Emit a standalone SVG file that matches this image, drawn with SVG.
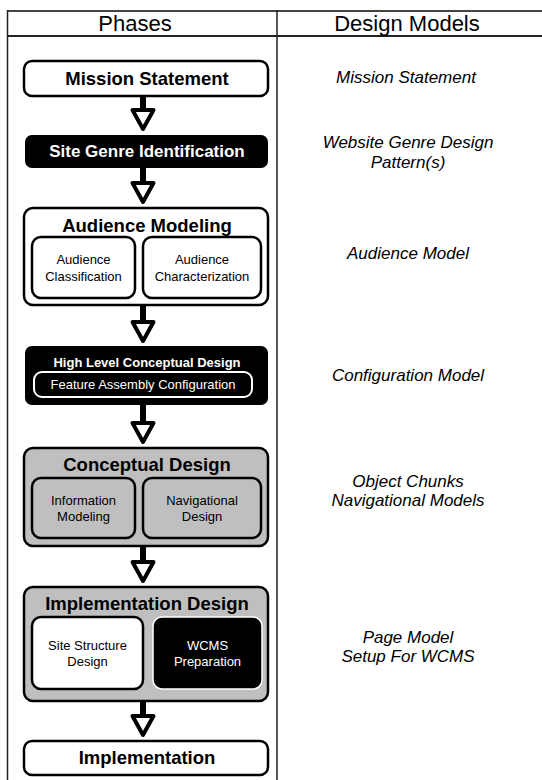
<svg xmlns="http://www.w3.org/2000/svg" width="542" height="780" viewBox="0 0 542 780">
<style>
text{font-family:"Liberation Sans",Arial,sans-serif;text-anchor:middle}
.hdr{font-size:22px;fill:#000}
.title{font-size:18.5px;font-weight:bold;fill:#000}
.sub{font-size:13px;fill:#000}
.model{font-size:17px;font-style:italic;fill:#000}
.box{stroke:#000;stroke-width:2.5}
.arrow-shaft{stroke:#000;stroke-width:6}
.arrow-head{fill:#fff;stroke:#000;stroke-width:4;stroke-linejoin:round}
</style>
<defs>
<g id="ah"><path class="arrow-head" d="M-10.5,2 L10.5,2 L0,21 Z"/></g>
</defs>
<rect width="542" height="780" fill="#fff"/>
<g id="table" fill="none" stroke="#222">
<line x1="7.5" y1="11" x2="542" y2="11" stroke-width="2" stroke="#444"/>
<line x1="7.5" y1="36" x2="542" y2="36" stroke-width="2"/>
<line x1="7.5" y1="10" x2="7.5" y2="780" stroke-width="1.5"/>
<line x1="277" y1="10" x2="277" y2="780" stroke-width="1.5"/>
</g>
<g id="headers">
<text class="hdr" x="135" y="31">Phases</text>
<text class="hdr" x="407" y="31">Design Models</text>
</g>
<g id="mission">
<rect class="box" x="24" y="61" width="244" height="35" rx="8" fill="#fff"/>
<text class="title" x="147" y="85">Mission Statement</text>
</g>
<g id="genre">
<rect x="25" y="135" width="243" height="33" rx="7" fill="#000"/>
<text class="title" x="147" y="157" fill="#fff" style="fill:#fff;font-size:17px">Site Genre Identification</text>
</g>
<g id="audience">
<rect class="box" x="24" y="208" width="244" height="97" rx="9" fill="#fff"/>
<text class="title" x="147" y="232">Audience Modeling</text>
<rect class="box" x="32" y="237" width="103" height="61" rx="9" fill="#fff"/>
<text class="sub" x="83.5" y="264">Audience</text>
<text class="sub" x="83.5" y="281">Classification</text>
<rect class="box" x="143" y="237" width="118" height="61" rx="9" fill="#fff"/>
<text class="sub" x="202" y="264">Audience</text>
<text class="sub" x="202" y="281">Characterization</text>
</g>
<g id="highlevel">
<rect x="25" y="346" width="243" height="59" rx="7" fill="#000"/>
<text x="147" y="367" style="font-size:13px;font-weight:bold;fill:#fff">High Level Conceptual Design</text>
<rect x="34" y="372" width="218" height="25" rx="8" fill="#000" stroke="#fff" stroke-width="2"/>
<text x="143" y="389" style="font-size:13px;fill:#fff">Feature Assembly Configuration</text>
</g>
<g id="conceptual">
<rect class="box" x="24" y="448" width="244" height="98" rx="9" fill="#bfbfbf"/>
<text class="title" x="147" y="471">Conceptual Design</text>
<rect class="box" x="32" y="478" width="103" height="60" rx="9" fill="#bfbfbf"/>
<text class="sub" x="83.5" y="505">Information</text>
<text class="sub" x="83.5" y="521">Modeling</text>
<rect class="box" x="143" y="478" width="118" height="60" rx="9" fill="#bfbfbf"/>
<text class="sub" x="202" y="505">Navigational</text>
<text class="sub" x="202" y="521">Design</text>
</g>
<g id="impldesign">
<rect class="box" x="24" y="587" width="244" height="114" rx="9" fill="#bfbfbf"/>
<text class="title" x="147" y="610">Implementation Design</text>
<rect class="box" x="32" y="617" width="111" height="72" rx="9" fill="#fff"/>
<text class="sub" x="87.5" y="650">Site Structure</text>
<text class="sub" x="87.5" y="666">Design</text>
<rect x="153" y="617" width="109" height="72" rx="9" fill="#000" stroke="#fff" stroke-width="1.5"/>
<text class="sub" x="207.5" y="650" style="fill:#fff">WCMS</text>
<text class="sub" x="207.5" y="666" style="fill:#fff">Preparation</text>
</g>
<g id="implementation">
<rect class="box" x="24" y="741" width="244" height="34" rx="8" fill="#fff"/>
<text class="title" x="147" y="764">Implementation</text>
</g>
<g id="models">
<text class="model" x="406" y="83">Mission Statement</text>
<text class="model" x="408" y="148">Website Genre Design</text>
<text class="model" x="408" y="168">Pattern(s)</text>
<text class="model" x="408" y="259">Audience Model</text>
<text class="model" x="408" y="381">Configuration Model</text>
<text class="model" x="408" y="487">Object Chunks</text>
<text class="model" x="408" y="506">Navigational Models</text>
<text class="model" x="408" y="643">Page Model</text>
<text class="model" x="408" y="662">Setup For WCMS</text>
</g>
<g id="connectors">
<line class="arrow-shaft" x1="143" y1="96" x2="143" y2="110"/>
<use href="#ah" x="143" y="108"/>
<line class="arrow-shaft" x1="143" y1="167" x2="143" y2="183"/>
<use href="#ah" x="143" y="181"/>
<line class="arrow-shaft" x1="143" y1="305" x2="143" y2="322"/>
<use href="#ah" x="143" y="320"/>
<line class="arrow-shaft" x1="143" y1="405" x2="143" y2="423"/>
<use href="#ah" x="143" y="421"/>
<line class="arrow-shaft" x1="143" y1="546" x2="143" y2="562"/>
<use href="#ah" x="143" y="560"/>
<line class="arrow-shaft" x1="143" y1="701" x2="143" y2="716"/>
<use href="#ah" x="143" y="714"/>
</g>
</svg>
